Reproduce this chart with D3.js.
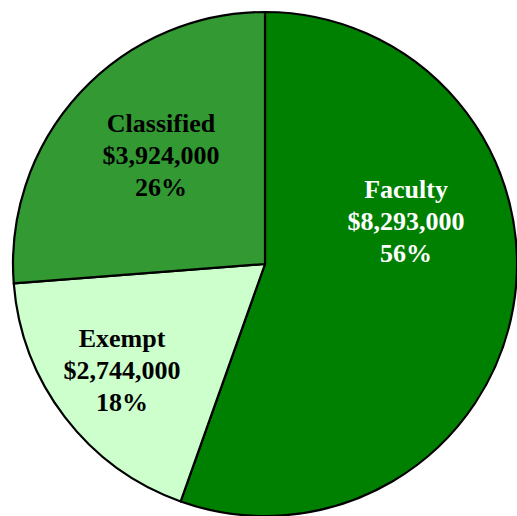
<!DOCTYPE html>
<html>
<head>
<meta charset="utf-8">
<script src="https://cdn.jsdelivr.net/npm/d3@7"></script>
<style>
  html, body { margin: 0; padding: 0; background: #ffffff; }
  svg { display: block; }
</style>
</head>
<body>
<div id="chart"></div>
<script>
// ---- data ----
const categories = ["Faculty", "Exempt", "Classified"];
const amounts = [8293000, 2744000, 3924000];
const percentLabels = ["56%", "18%", "26%"];

// ---- style / layout (not data) ----
const colors = ["#008000", "#ccffcc", "#339933"];
const textColors = ["#ffffff", "#000000", "#000000"];
// label middle-line anchor, offset from pie centre (px)
const labelOffsets = [[141, -43], [-143, 106], [-104, -109]];

const W = 517, H = 516;
const cx = 265, cy = 264, R = 252;

const svg = d3.select("#chart").append("svg")
  .attr("width", W).attr("height", H);

const g = svg.append("g").attr("transform", `translate(${cx},${cy})`);

const rows = categories.map((c, i) => ({ cat: c, value: amounts[i], pct: percentLabels[i], i }));

const pie = d3.pie().value(d => d.value).sort(null).startAngle(0).endAngle(2 * Math.PI);
const arc = d3.arc().innerRadius(0).outerRadius(R);

g.selectAll("path.slice")
  .data(pie(rows))
  .join("path")
  .attr("class", "slice")
  .attr("d", arc)
  .attr("fill", d => colors[d.data.i])
  .attr("stroke", "#000")
  .attr("stroke-width", 2.2)
  .attr("stroke-linejoin", "round");

const fmt = d3.format("$,");
const lineH = 32;

const labels = g.selectAll("text.lbl")
  .data(pie(rows))
  .join("text")
  .attr("class", "lbl")
  .attr("text-anchor", "middle")
  .attr("font-family", "'Liberation Serif', 'Times New Roman', serif")
  .attr("font-weight", "bold")
  .attr("font-size", 26)
  .attr("fill", d => textColors[d.data.i])
  .attr("transform", d => `translate(${labelOffsets[d.data.i][0]},${labelOffsets[d.data.i][1]})`);

labels.each(function(d) {
  const t = d3.select(this);
  const lines = [d.data.cat, fmt(d.data.value), d.data.pct];
  lines.forEach((ln, k) => {
    t.append("tspan")
      .attr("x", 0)
      .attr("y", (k - 1) * lineH + 9)
      .text(ln);
  });
});
</script>
</body>
</html>
